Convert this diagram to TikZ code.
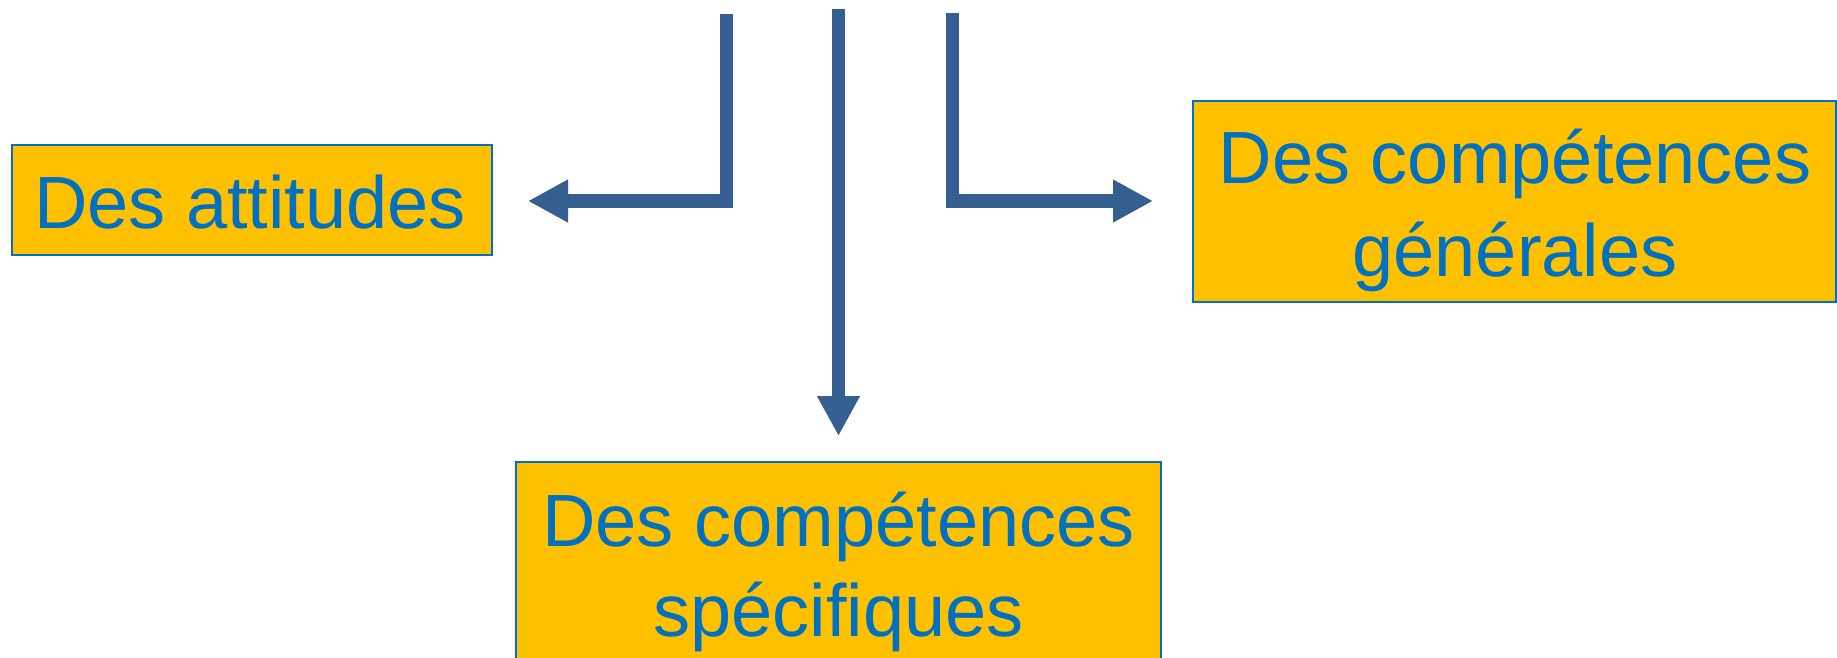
\documentclass[tikz,border=0pt]{standalone}
\usepackage{fontspec}
\setmainfont{Liberation Sans}
\usetikzlibrary{arrows.meta}
\definecolor{boxfill}{RGB}{255,192,0}
\definecolor{boxblue}{RGB}{0,112,192}
\definecolor{arrowblue}{RGB}{54,95,145}
\begin{document}
\begin{tikzpicture}[x=1pt,y=-1pt,
  box/.style={draw=boxblue, line width=2pt, fill=boxfill, inner sep=0pt},
  lbl/.style={text=boxblue, inner sep=0pt, font=\fontsize{74}{90}\selectfont, anchor=base},
  bigarrow/.style={draw=arrowblue, line width=13.5pt, -{Triangle[length=40pt,width=40pt]}, line join=miter},
  arrowshadow/.style={draw=black, opacity=0.15, line width=13.5pt, -{Triangle[length=40pt,width=40pt]}, line join=miter, shift={(2,3)}}]
\useasboundingbox (0,0) rectangle (1837,658);
% boxes
\node[box, minimum width=480pt, minimum height=110pt] (att) at (252,200) {};
\node[box, minimum width=643pt, minimum height=201pt] (gen) at (1514.5,201.5) {};
\node[box, minimum width=645pt, minimum height=240pt, anchor=north] (spe) at (838.5,461) {};
% labels
\node[lbl] (attT) at (250,228) {Des attitudes};
\node[lbl] (genT) at (1515,183) {\begin{tabular}[t]{@{}c@{}}Des compétences\\[3pt]générales\end{tabular}};
\node[lbl] (speT) at (838.5,546) {\begin{tabular}[t]{@{}c@{}}Des compétences\\spécifiques\end{tabular}};
% arrow coordinates
\coordinate (lTop) at (726.5,14);
\coordinate (lTip) at (528,201);
\coordinate (cTop) at (838.5,9);
\coordinate (cTip) at (838.5,436);
\coordinate (rTop) at (952.5,13);
\coordinate (rTip) at (1153,201);
% shadows
\draw[arrowshadow] (lTop) |- (lTip);
\draw[arrowshadow] (cTop) -- (cTip);
\draw[arrowshadow] (rTop) |- (rTip);
% arrows
\draw[bigarrow] (lTop) |- (lTip);
\draw[bigarrow] (cTop) -- (cTip);
\draw[bigarrow] (rTop) |- (rTip);
\end{tikzpicture}
\end{document}
